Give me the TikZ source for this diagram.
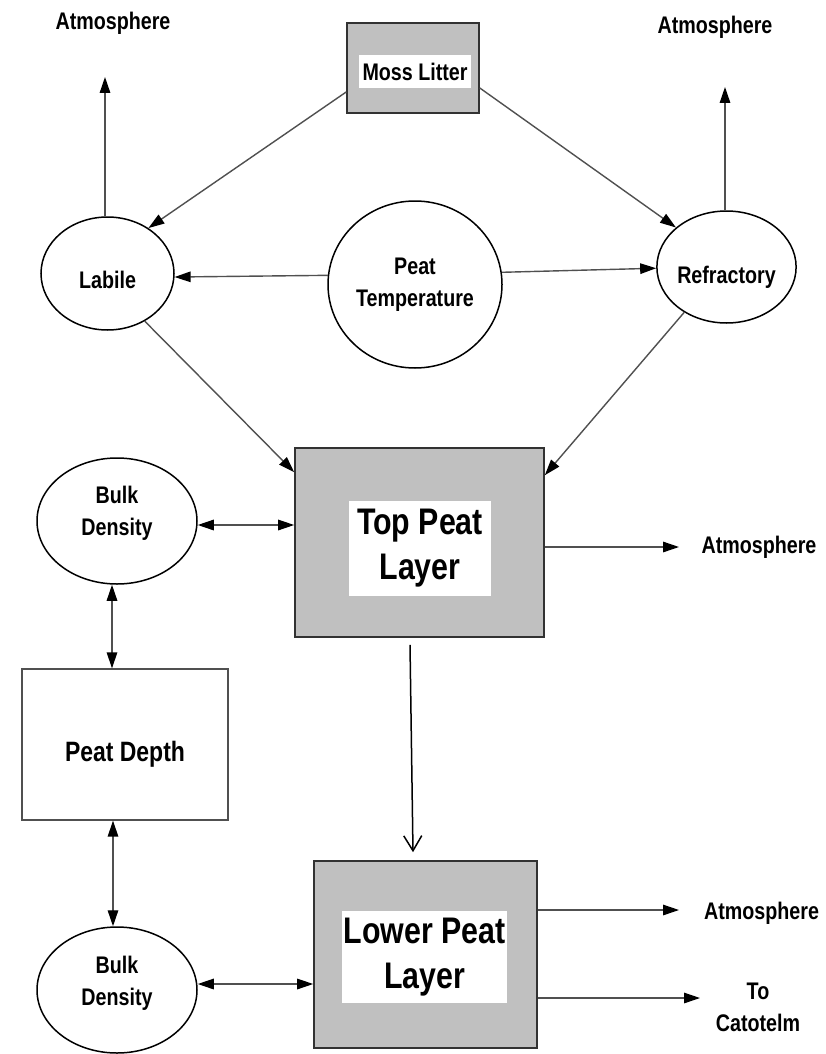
\documentclass[tikz,border=0pt]{standalone}
\usepackage{fontspec}
\setmainfont{Liberation Sans}[FakeStretch=0.82]
\usetikzlibrary{arrows.meta,shapes.geometric}
\definecolor{boxgray}{RGB}{192,192,192}
\definecolor{linegray}{RGB}{80,80,80}
\definecolor{edgegray}{RGB}{50,50,50}
\begin{document}
\begin{tikzpicture}[x=1pt,y=-1pt,
  txt/.style={font=\bfseries\fontsize{24}{32}\selectfont, align=center, text=black, inner sep=0pt},
  bigtxt/.style={font=\bfseries\fontsize{37}{45}\selectfont, align=center, text=black},
  oval/.style={ellipse, draw=black, line width=1.5pt, inner sep=0pt, txt},
  low/.style={text height=29pt, text depth=0pt},
  gbox/.style={draw=edgegray, fill=boxgray, line width=1.6pt, inner sep=0pt},
  wlab/.style={fill=white, inner sep=0pt, align=center},
  arr/.style={draw=linegray, line width=1.4pt, -{Triangle[length=16pt,width=10.5pt,color=black]}},
  darr/.style={draw=linegray, line width=1.4pt, {Triangle[length=16pt,width=10.5pt,color=black]}-{Triangle[length=16pt,width=10.5pt,color=black]}}
]
\useasboundingbox[fill=white] (0,0) rectangle (825,1054);

% nodes
\node[gbox, minimum width=132pt, minimum height=90pt] (moss) at (413,68) {};
\node[wlab, txt, minimum width=112pt, minimum height=33pt] (mosslbl) at (415,71.5) {Moss Litter};

\node[txt] (atm1) at (113,23) {Atmosphere};
\node[txt] (atm2) at (715,27) {Atmosphere};
\coordinate (atl) at (105,77);
\coordinate (atr) at (725,87);

\node[oval, low, minimum width=133pt, minimum height=113pt] (labile) at (107.5,273.5) {Labile};
\node[oval, minimum width=174pt, minimum height=167pt] (ptemp) at (415,284.5) {Peat\\Temperature};
\node[oval, text height=32pt, text depth=0pt, minimum width=133pt, minimum height=112pt] (refr) at (726.5,267) {Refractory};

\node[gbox, minimum width=249pt, minimum height=189pt] (top) at (419.5,542.5) {};
\node[wlab, bigtxt, minimum width=142pt, minimum height=95pt] (toplbl) at (420,548.5) {Top Peat\\Layer};

\node[oval, low, minimum width=160pt, minimum height=126pt] (bulk1) at (117,521) {Bulk\\Density};
\node[draw=linegray, line width=1.3pt, minimum width=206pt, minimum height=151pt, inner sep=0pt,
      text height=34pt, text depth=0pt,
      font=\bfseries\fontsize{28}{34}\selectfont] (pdepth) at (125,744.5) {Peat Depth};
\node[oval, text height=31pt, text depth=0pt, minimum width=160pt, minimum height=126pt] (bulk2) at (117,990) {Bulk\\Density};

\node[gbox, minimum width=223pt, minimum height=187pt] (lower) at (425.5,954.5) {};
\node[wlab, bigtxt, minimum width=165pt, minimum height=92pt] (lowerlbl) at (424.5,957) {Lower Peat\\Layer};

\node[txt] (atm3) at (759,547) {Atmosphere};
\coordinate (t3) at (679,547);
\node[txt, anchor=west] (atm4) at (704,913) {Atmosphere};
\coordinate (t4) at (679,910);
\node[txt] (cat) at (758,1007) {To\\Catotelm};
\coordinate (t5) at (700,998);

% connectors
\draw[arr] (atl |- labile.north) -- (atl);
\draw[arr] (atr |- refr.north) -- (atr);
\draw[arr] ([yshift=-24pt]moss.west) -- (labile.48);
\draw[arr] ([yshift=-20pt]moss.east) -- (refr.142);
\draw[arr] (ptemp.174) -- (labile.357);
\draw[arr] (ptemp.8) -- (refr.181);
\draw[arr] (labile.-52) -- ([yshift=-25pt]top.north west);
\draw[arr] (refr.227) -- ([yshift=-28pt]top.north east);
\draw[darr] ([yshift=-4pt]bulk1.east) -- ([yshift=-4pt]bulk1.east -| top.west);
\draw[arr] (top.east |- t3) -- (t3);
\draw[darr] ([xshift=-5pt]bulk1.south) -- ([xshift=-5pt]bulk1.south |- pdepth.north);
\draw[darr] ([xshift=-4pt]bulk2.north |- pdepth.south) -- ([xshift=-4pt]bulk2.north);
\draw[darr] ([yshift=6pt]bulk2.east) -- ([yshift=6pt]bulk2.east -| lower.west);
\draw[black, line width=1.5pt, -{Straight Barb[length=15pt,width=18pt]}]
  ([shift={(-9.5pt,-7pt)}]top.south) -- ([shift={(-12.5pt,8pt)}]lower.north);
\draw[arr] (lower.east |- t4) -- (t4);
\draw[arr] (lower.east |- t5) -- (t5);
\end{tikzpicture}
\end{document}
